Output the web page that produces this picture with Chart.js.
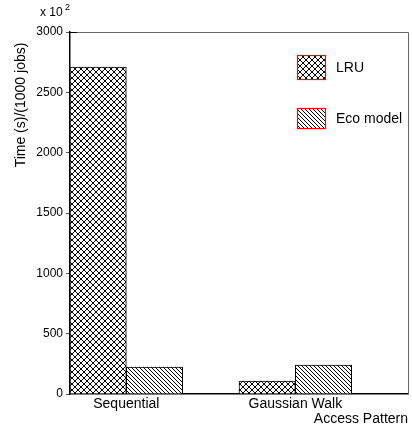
<!DOCTYPE html>
<html>
<head>
<meta charset="utf-8">
<script src="https://cdn.jsdelivr.net/npm/chart.js@4"></script>
<style>
  html, body { margin: 0; padding: 0; background: #fff; }
  #wrap { width: 412px; height: 427px; }
</style>
</head>
<body>
<div id="wrap"><canvas id="grafico"></canvas></div>
<script>
// datos
const categorias = ['Sequential', 'Gaussian Walk'];
const tiemposLRU = [2710, 108];
const tiemposEco = [224, 240];
const etiquetasY = [0, 500, 1000, 1500, 2000, 2500, 3000];
const nombresSeries = ['LRU', 'Eco model'];

// 3 huecos por categoria: LRU, Eco, vacio
const huecos = [];
const datosLRU = [];
const datosEco = [];
categorias.forEach((c, i) => {
    huecos.push(c + ' LRU', c + ' Eco', '');
    datosLRU.push(tiemposLRU[i], null, null);
    datosEco.push(null, tiemposEco[i], null);
});

function patronCuadricula() {
    const c = document.createElement('canvas');
    c.width = 6; c.height = 6;
    const g = c.getContext('2d');
    g.fillStyle = '#fff';
    g.fillRect(0, 0, 6, 6);
    g.strokeStyle = '#000';
    g.lineWidth = 1;
    g.beginPath();
    g.moveTo(-1, -1); g.lineTo(7, 7);
    g.moveTo(-1, 7); g.lineTo(7, -1);
    g.stroke();
    return g.createPattern(c, 'repeat');
}

function patronDiagonal() {
    const c = document.createElement('canvas');
    c.width = 4; c.height = 4;
    const g = c.getContext('2d');
    g.fillStyle = '#fff';
    g.fillRect(0, 0, 4, 4);
    g.strokeStyle = '#000';
    g.lineWidth = 1;
    g.beginPath();
    g.moveTo(-1, -1); g.lineTo(5, 5);
    g.moveTo(-1, 3); g.lineTo(1, 5);
    g.moveTo(3, -1); g.lineTo(5, 1);
    g.stroke();
    return g.createPattern(c, 'repeat');
}

const rellenoLRU = patronCuadricula();
const rellenoEco = patronDiagonal();
const fuente = '"Liberation Sans", Arial, sans-serif';

const extras = {
    id: 'extras',
    afterDraw(chart) {
        const ctx = chart.ctx;
        const a = chart.chartArea;
        const x = chart.scales.x;
        ctx.save();
        // marco superior y derecho
        ctx.strokeStyle = '#666';
        ctx.lineWidth = 1;
        ctx.beginPath();
        ctx.moveTo(a.left, a.top + 0.5);
        ctx.lineTo(a.right + 0.5, a.top + 0.5);
        ctx.lineTo(a.right + 0.5, a.bottom);
        ctx.stroke();
        ctx.strokeStyle = '#000';
        ctx.beginPath();
        ctx.moveTo(a.left, a.top + 0.5);
        ctx.lineTo(a.left + 7, a.top + 0.5);
        ctx.stroke();

        ctx.fillStyle = '#000';
        ctx.font = '14px ' + fuente;
        ctx.textBaseline = 'middle';
        // etiquetas de categoria entre las dos barras
        ctx.textAlign = 'center';
        categorias.forEach((c, i) => {
            const px = (x.getPixelForValue(3 * i) + x.getPixelForValue(3 * i + 1)) / 2;
            ctx.fillText(c, px, a.bottom + 10);
        });
        ctx.textAlign = 'right';
        ctx.fillText('Access Pattern', 408, a.bottom + 25);

        // titulo eje Y
        ctx.save();
        ctx.translate(21, a.top + 73);
        ctx.rotate(-Math.PI / 2);
        ctx.textAlign = 'center';
        ctx.fillText('Time (s)/(1000 jobs)', 0, 0);
        ctx.restore();

        // factor x 10^2
        ctx.textAlign = 'left';
        ctx.font = '12px ' + fuente;
        ctx.fillText('x 10', 40, 13);
        ctx.font = '9px ' + fuente;
        ctx.fillText('2', 65, 8);

        // leyenda
        const rellenos = [rellenoLRU, rellenoEco];
        const filas = [{ y: 55, h: 25 }, { y: 108, h: 21 }];
        ctx.font = '14px ' + fuente;
        nombresSeries.forEach((n, i) => {
            const bx = 297, by = filas[i].y, bw = 29, bh = filas[i].h;
            ctx.fillStyle = rellenos[i];
            ctx.fillRect(bx, by, bw, bh);
            ctx.strokeStyle = '#f00';
            ctx.lineWidth = 1.2;
            ctx.strokeRect(bx + 0.5, by + 0.5, bw - 1, bh - 1);
            ctx.fillStyle = '#000';
            ctx.fillText(n, 336, by + bh / 2 + 1);
        });
        ctx.restore();
    }
};

new Chart(document.getElementById('grafico'), {
    type: 'bar',
    data: {
        labels: huecos,
        datasets: [
            {
                label: nombresSeries[0],
                data: datosLRU,
                backgroundColor: rellenoLRU,
                borderColor: '#000',
                borderWidth: 1,
                grouped: false,
                barPercentage: 1,
                categoryPercentage: 1
            },
            {
                label: nombresSeries[1],
                data: datosEco,
                backgroundColor: rellenoEco,
                borderColor: '#000',
                borderWidth: 1,
                grouped: false,
                barPercentage: 1,
                categoryPercentage: 1
            }
        ]
    },
    options: {
        responsive: true,
        maintainAspectRatio: false,
        animation: false,
        layout: { padding: { top: 32, right: 4, left: 0, bottom: 0 } },
        plugins: {
            legend: { display: false },
            tooltip: { enabled: false }
        },
        scales: {
            x: {
                ticks: { display: false },
                grid: { display: false, drawTicks: false },
                border: { color: '#000', width: 1.5 },
                afterFit: s => { s.height = 33; }
            },
            y: {
                min: 0,
                max: 3000,
                afterBuildTicks: s => { s.ticks = etiquetasY.map(v => ({ value: v })); },
                ticks: {
                    color: '#000',
                    font: { family: fuente, size: 12 },
                    padding: 3,
                    callback: v => String(v)
                },
                grid: { drawOnChartArea: false, tickLength: 4, color: '#555' },
                border: { color: '#000', width: 1.5 },
                afterFit: s => { s.width = 70; }
            }
        }
    },
    plugins: [extras]
});
</script>
</body>
</html>
